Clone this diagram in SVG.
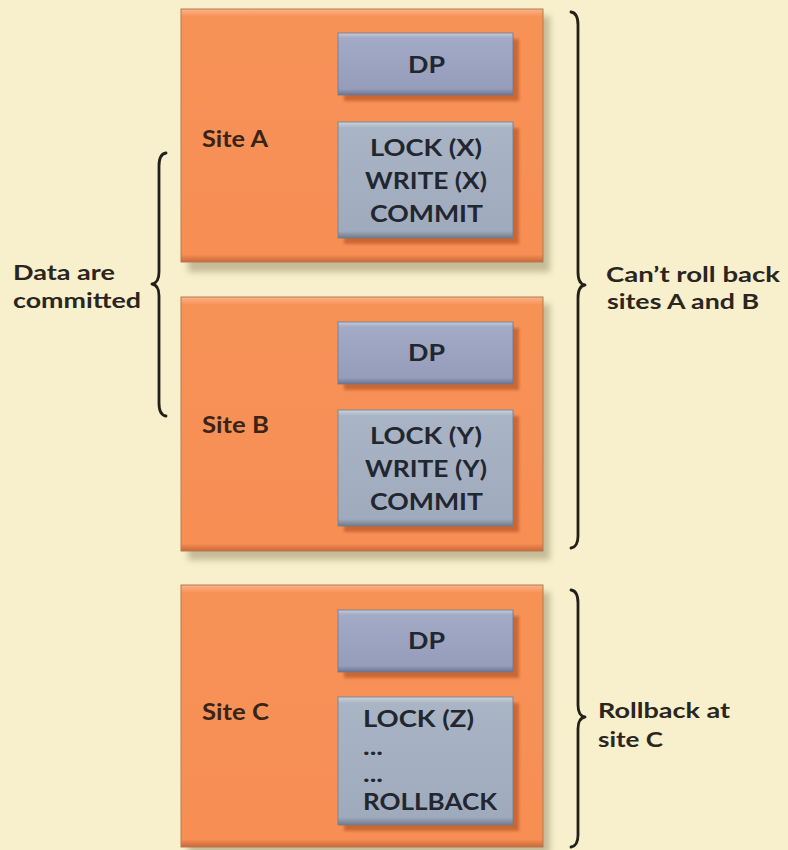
<svg xmlns="http://www.w3.org/2000/svg" width="788" height="850" viewBox="0 0 788 850">
  <defs>
    <linearGradient id="siteFill" x1="0" y1="0" x2="0" y2="1">
      <stop offset="0" stop-color="#FBB48A"/>
      <stop offset="0.03" stop-color="#F79257"/>
      <stop offset="0.97" stop-color="#F78F55"/>
      <stop offset="1" stop-color="#C9683A"/>
    </linearGradient>
    <linearGradient id="dpFill" x1="0" y1="0" x2="0" y2="1">
      <stop offset="0" stop-color="#C4CCDD"/>
      <stop offset="0.08" stop-color="#A2AAC6"/>
      <stop offset="0.9" stop-color="#959DBA"/>
      <stop offset="1" stop-color="#6C7590"/>
    </linearGradient>
    <linearGradient id="opFill" x1="0" y1="0" x2="0" y2="1">
      <stop offset="0" stop-color="#C8D2DC"/>
      <stop offset="0.05" stop-color="#A9B5C5"/>
      <stop offset="0.94" stop-color="#9FABBC"/>
      <stop offset="1" stop-color="#6F7C8E"/>
    </linearGradient>
    <filter id="soft" x="-10%" y="-10%" width="120%" height="120%">
      <feGaussianBlur stdDeviation="3"/>
    </filter>
    <filter id="softSmall" x="-10%" y="-10%" width="120%" height="120%">
      <feGaussianBlur stdDeviation="1.5"/>
    </filter>
  </defs>
  <style>
    .site { fill: url(#siteFill); stroke: #B77A4E; stroke-width: 1; }
    .siteShadow { fill: #B8AE8A; opacity: 0.8; }
    .dp { fill: url(#dpFill); stroke: #6F7790; stroke-width: 0.8; }
    .op { fill: url(#opFill); stroke: #6F7C8E; stroke-width: 0.8; }
    .boxShadow { fill: #C4602F; opacity: 0.85; }
    .label { font-family: Lato, "Open Sans", "Liberation Sans", sans-serif; font-weight: bold; fill: #2B2520; }
    .site-name { font-size: 23px; fill: #3A2418; }
    .box-text { font-size: 23px; fill: #222630; }
    .note { font-size: 21px; }
    .brace { fill: none; stroke: #231F1A; stroke-width: 2.8; stroke-linecap: round; stroke-linejoin: round; }
  </style>

  <rect x="0" y="0" width="788" height="850" fill="#F8EFCC"/>

  <!-- Site A -->
  <g id="site-a">
    <rect class="siteShadow" x="188" y="16" width="362" height="256" filter="url(#soft)"/>
    <rect class="site" x="181" y="9" width="362" height="253"/>
    <rect class="boxShadow" x="344" y="39" width="175" height="62" filter="url(#softSmall)"/>
    <rect class="dp" x="338" y="33" width="175" height="62"/>
    <text class="label box-text" x="408" y="73" textLength="37" lengthAdjust="spacingAndGlyphs">DP</text>
    <rect class="boxShadow" x="344" y="128" width="175" height="116" filter="url(#softSmall)"/>
    <rect class="op" x="338" y="122" width="175" height="116"/>
    <text class="label box-text" x="370" y="156" textLength="112" lengthAdjust="spacingAndGlyphs">LOCK (X)</text>
    <text class="label box-text" x="365" y="189" textLength="122" lengthAdjust="spacingAndGlyphs">WRITE (X)</text>
    <text class="label box-text" x="370" y="222" textLength="113" lengthAdjust="spacingAndGlyphs">COMMIT</text>
    <text class="label site-name" x="202" y="147" textLength="66" lengthAdjust="spacingAndGlyphs">Site A</text>
  </g>

  <!-- Site B -->
  <g id="site-b">
    <rect class="siteShadow" x="188" y="304" width="362" height="256" filter="url(#soft)"/>
    <rect class="site" x="181" y="297" width="362" height="254"/>
    <rect class="boxShadow" x="344" y="328" width="175" height="62" filter="url(#softSmall)"/>
    <rect class="dp" x="338" y="322" width="175" height="62"/>
    <text class="label box-text" x="408" y="361" textLength="37" lengthAdjust="spacingAndGlyphs">DP</text>
    <rect class="boxShadow" x="344" y="416" width="175" height="116" filter="url(#softSmall)"/>
    <rect class="op" x="338" y="410" width="175" height="116"/>
    <text class="label box-text" x="370" y="444" textLength="112" lengthAdjust="spacingAndGlyphs">LOCK (Y)</text>
    <text class="label box-text" x="365" y="477" textLength="122" lengthAdjust="spacingAndGlyphs">WRITE (Y)</text>
    <text class="label box-text" x="370" y="510" textLength="113" lengthAdjust="spacingAndGlyphs">COMMIT</text>
    <text class="label site-name" x="202" y="433" textLength="67" lengthAdjust="spacingAndGlyphs">Site B</text>
  </g>

  <!-- Site C -->
  <g id="site-c">
    <rect class="siteShadow" x="188" y="592" width="362" height="262" filter="url(#soft)"/>
    <rect class="site" x="181" y="585" width="362" height="262"/>
    <rect class="boxShadow" x="344" y="616" width="175" height="62" filter="url(#softSmall)"/>
    <rect class="dp" x="338" y="610" width="175" height="62"/>
    <text class="label box-text" x="408" y="649" textLength="37" lengthAdjust="spacingAndGlyphs">DP</text>
    <rect class="boxShadow" x="344" y="703" width="175" height="128" filter="url(#softSmall)"/>
    <rect class="op" x="338" y="697" width="175" height="128"/>
    <text class="label box-text" x="363" y="727" textLength="111" lengthAdjust="spacingAndGlyphs">LOCK (Z)</text>
    <text class="label box-text" x="363" y="755" textLength="20" lengthAdjust="spacingAndGlyphs">...</text>
    <text class="label box-text" x="363" y="782" textLength="20" lengthAdjust="spacingAndGlyphs">...</text>
    <text class="label box-text" x="363" y="810" textLength="134" lengthAdjust="spacingAndGlyphs">ROLLBACK</text>
    <text class="label site-name" x="202" y="720" textLength="67" lengthAdjust="spacingAndGlyphs">Site C</text>
  </g>

  <!-- Braces -->
  <g id="braces">
    <path class="brace" d="M166,153 Q159,154 159,166 L159,272 Q159,283 152,284 Q159,285 159,296 L159,403 Q159,415 166,416"/>
    <path class="brace" d="M571,12 Q578,13 578,25 L578,272 Q578,284 585,285 Q578,286 578,298 L578,536 Q578,547 571,548"/>
    <path class="brace" d="M571,590 Q578,591 578,603 L578,705 Q578,716 585,717 Q578,718 578,729 L578,835 Q578,846 571,847"/>
  </g>

  <!-- Brace notes -->
  <g id="notes">
    <text class="label note" x="13" y="280" textLength="102" lengthAdjust="spacingAndGlyphs">Data are</text>
    <text class="label note" x="13" y="308" textLength="128" lengthAdjust="spacingAndGlyphs">committed</text>
    <text class="label note" x="606" y="282" textLength="174" lengthAdjust="spacingAndGlyphs">Can’t roll back</text>
    <text class="label note" x="607" y="309" textLength="152" lengthAdjust="spacingAndGlyphs">sites A and B</text>
    <text class="label note" x="598" y="718" textLength="132" lengthAdjust="spacingAndGlyphs">Rollback at</text>
    <text class="label note" x="598" y="747" textLength="65" lengthAdjust="spacingAndGlyphs">site C</text>
  </g>
</svg>
